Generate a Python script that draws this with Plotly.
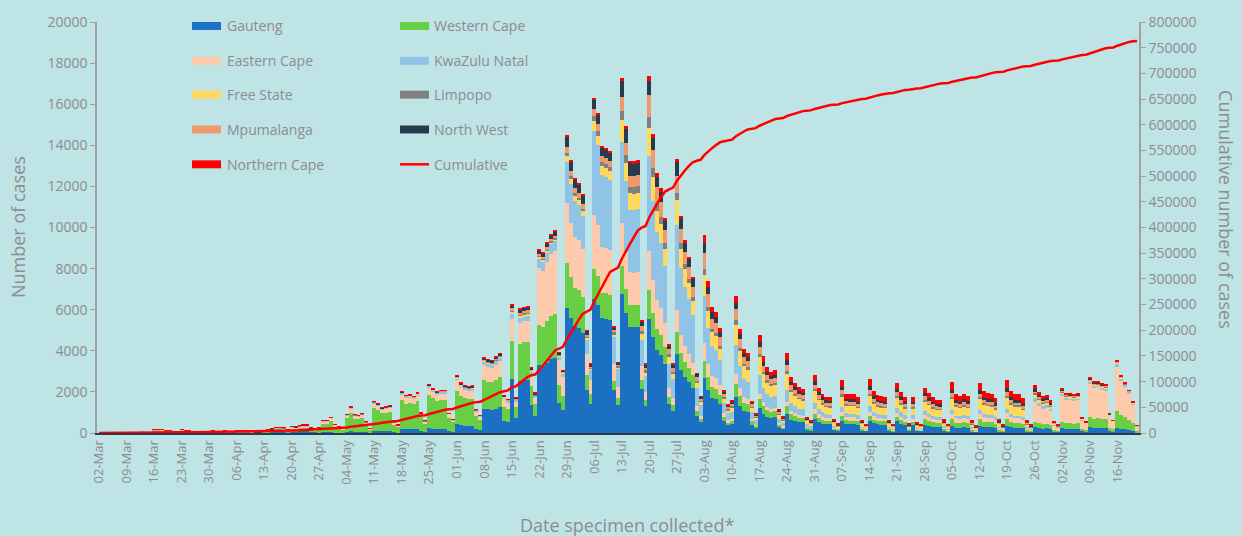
import numpy as np
import pandas as pd
import plotly.graph_objects as go

dates = list(pd.date_range("2020-03-02", "2020-11-21").strftime("%d-%b"))
tick_labels = dates[::7]

gauteng = [
0,0,1,1,2,1,1, 2,5,9,16,22,18,18, 68,77,72,59,50,27,23, 81,54,45,40,36,22,18,
18,20,18,18,20,12,10, 24,26,28,22,12,10,8, 16,36,40,58,56,52,30, 68,60,74,78,78,50,40,
14,32,32,38,22,17,13, 55,76,54,52,57,33,14, 93,86,74,76,80,33,23, 203,184,187,179,197,98,60,
236,216,202,208,208,95,66, 422,366,348,342,344,174,131, 1168,1146,1130,1184,1245,589,528,
2625,727,2537,2570,2583,1348,819, 3308,3249,3426,3578,3637,1458,1129, 6094,5586,5212,5111,4872,2096,1415,
6528,6224,5580,5544,5480,2072,1380, 6743,5831,5168,5156,5179,2145,1314, 5562,4659,4048,3808,3350,1389,1078,
3866,3062,2720,2485,2195,841,519, 2699,2075,1714,1646,1434,591,389, 416,1737,1318,1066,1011,408,247,
1195,933,803,743,763,298,205, 938,655,586,538,518,190,144, 674,530,461,422,415,166,106,
591,442,435,435,405,145,101, 600,472,423,412,405,145,97, 561,460,398,108,398,120,101,
398,351,311,293,288,119,79, 349,265,251,269,253,88,50, 343,284,273,269,239,92,59,
360,287,265,265,235,88,59, 278,240,215,221,192,70,50, 221,197,195,192,195,76,55,
270,249,252,240,237,95,63, 247,195,172,146,106,25]

western_cape = [
0,0,0,1,1,0,0, 2,3,6,10,15,12,12, 45,51,48,39,33,18,15, 54,36,30,27,24,15,12,
45,50,45,45,50,30,25, 60,65,70,55,30,25,20, 40,90,100,145,140,130,75, 170,150,185,195,195,125,100,
196,441,441,532,308,238,175, 662,914,648,626,684,396,166, 1116,1037,893,914,965,396,281, 1380,1251,1272,1217,1340,666,408,
1605,1469,1374,1414,1414,646,449, 1630,1415,1346,1322,1328,673,505, 1387,1360,1341,1406,1478,699,627,
1875,519,1812,1836,1845,963,585, 1967,1932,2037,2127,2163,867,671, 2177,1995,1862,1826,1740,749,506,
1469,1400,1256,1247,1233,466,311, 1383,1196,1060,1058,1062,440,270, 1390,1165,1012,952,838,347,270,
1066,845,750,686,606,232,143, 819,630,520,500,435,179,118, 160,668,507,410,389,157,95,
478,373,321,297,305,119,82, 352,246,220,202,194,71,54, 253,199,173,158,156,62,40,
231,173,170,170,158,57,40, 235,185,166,161,158,57,38, 220,180,156,42,156,47,40,
265,234,208,196,192,79,53, 324,246,233,250,235,82,47, 319,264,254,250,222,86,55,
334,267,246,246,218,82,55, 278,240,215,221,192,70,50, 309,276,273,269,273,106,77,
486,448,454,432,427,171,113, 847,667,588,499,365,86]

eastern_cape = [
0,0,0,0,0,0,0, 0,0,1,1,2,1,1, 5,5,5,4,3,2,2, 5,4,3,3,2,2,1,
11,12,11,11,12,7,6, 14,16,17,13,7,6,5, 10,22,24,35,34,31,18, 41,36,44,47,47,30,24,
42,95,95,114,66,51,38, 138,191,135,131,143,83,35, 233,216,186,191,201,83,59, 305,276,281,269,296,147,90,
354,324,303,312,312,143,99, 506,439,418,410,412,209,157, 730,716,706,740,778,368,330,
1063,294,1027,1040,1046,546,332, 2771,2722,2871,2998,3047,1221,946, 2902,2660,2482,2434,2320,998,674,
2611,2490,2232,2218,2192,829,552, 2075,1794,1590,1586,1594,660,404, 1912,1602,1392,1309,1152,477,371,
1066,845,750,686,606,232,143, 868,667,551,529,461,190,125, 112,468,355,287,272,110,67,
239,187,161,149,153,60,41, 235,164,146,134,130,47,36, 225,177,154,141,138,55,35,
206,154,151,151,141,50,35, 209,164,147,143,141,50,34, 195,160,138,38,138,42,35,
221,195,173,163,160,66,44, 274,208,197,211,199,69,40, 270,223,215,211,188,73,46,
283,226,208,208,185,69,46, 974,840,752,773,672,244,176, 1282,1143,1131,1114,1131,441,319,
1620,1494,1512,1440,1422,570,378, 2118,1668,1470,1248,912,216]

kwazulu_natal = [
0,0,0,0,0,0,0, 1,1,2,4,6,5,5, 18,20,19,16,13,7,6, 22,14,12,11,10,6,5,
7,8,7,7,8,5,4, 10,10,11,9,5,4,3, 6,14,16,23,22,21,12, 27,24,30,31,31,20,16,
14,32,32,38,22,17,13, 28,38,27,26,29,17,7, 47,43,37,38,40,17,12, 61,55,56,54,59,29,18,
94,86,81,83,83,38,26, 112,98,93,91,92,46,35, 183,179,177,185,195,92,83,
250,69,242,245,246,128,78, 447,439,463,484,492,197,153, 2031,1862,1737,1704,1624,699,472,
4080,3890,3488,3465,3425,1295,863, 3977,3439,3048,3041,3054,1265,775, 4606,3858,3352,3154,2775,1150,893,
4132,3274,2908,2657,2347,899,555, 2265,1741,1438,1382,1203,496,327, 336,1403,1065,861,817,330,200,
908,709,610,564,580,226,156, 547,382,342,314,302,111,84, 309,243,211,194,190,76,48,
257,192,189,189,176,63,44, 261,205,184,179,176,63,42, 244,200,173,47,173,52,44,
177,156,138,130,128,53,35, 174,132,125,134,127,44,25, 172,142,137,134,120,46,29,
180,144,132,132,118,44,29, 162,140,125,129,112,41,29, 111,99,98,96,98,38,28,
108,100,101,96,95,38,25, 177,139,123,104,76,18]

free_state = [
0,0,0,0,0,0,0, 0,1,1,2,3,2,2, 7,9,8,6,5,3,2, 9,6,5,5,4,3,2,
2,2,2,2,2,1,1, 2,3,3,2,1,1,1, 2,4,4,6,6,5,3, 7,6,7,8,8,5,4,
3,6,6,8,4,3,2, 9,13,9,9,10,6,2, 16,14,12,13,13,6,4, 20,18,19,18,20,10,6,
12,11,10,10,10,5,3, 28,24,23,23,23,12,9, 37,36,35,37,39,18,17,
94,26,91,92,92,48,29, 89,88,93,97,98,39,31, 290,266,248,243,232,100,67,
490,467,419,416,411,155,104, 1037,897,795,793,797,330,202, 1390,1165,1012,952,838,347,270,
1200,950,844,771,681,261,161, 1060,815,673,647,563,232,153, 240,1002,761,615,584,236,143,
860,671,578,535,549,214,148, 821,573,512,470,454,166,126, 590,464,403,370,363,145,92,
514,384,378,378,352,126,88, 522,410,368,358,352,126,84, 488,400,346,94,346,104,88,
486,429,381,359,352,145,97, 573,435,412,442,416,145,83, 564,467,449,442,393,152,97,
591,472,435,435,386,145,97, 186,160,143,147,128,46,34, 66,59,59,58,59,23,17,
54,50,50,48,47,19,13, 35,28,25,21,15,4]

limpopo = [
0,0,0,0,0,0,0, 0,0,0,0,1,0,0, 2,2,2,1,1,1,0, 2,1,1,1,1,0,0,
2,2,2,2,2,1,1, 2,3,3,2,1,1,1, 2,4,4,6,6,5,3, 7,6,7,8,8,5,4,
3,6,6,8,4,3,2, 5,6,5,4,5,3,1, 8,7,6,6,7,3,2, 10,9,9,9,10,5,3,
12,11,10,10,10,5,3, 14,12,12,11,11,6,4, 18,18,18,19,19,9,8,
63,17,60,61,62,32,20, 45,44,46,48,49,20,15, 145,133,124,122,116,50,34,
245,233,209,208,206,78,52, 432,374,331,331,332,138,84, 521,437,380,357,314,130,101,
333,264,235,214,189,73,45, 289,222,184,176,154,63,42, 48,200,152,123,117,47,29,
143,112,96,89,92,36,25, 117,82,73,67,65,24,18, 84,66,58,53,52,21,13,
77,58,57,57,53,19,13, 78,62,55,54,53,19,13, 73,60,52,14,52,16,13,
66,59,52,49,48,20,13, 75,57,54,58,54,19,11, 74,61,59,58,51,20,13,
77,62,57,57,50,19,13, 46,40,36,37,32,12,8, 33,30,29,29,29,11,8,
27,25,25,24,24,10,6, 18,14,12,10,8,2]

mpumalanga = [
0,0,0,0,0,0,0, 0,0,1,1,1,1,1, 3,3,3,3,2,1,1, 4,2,2,2,2,1,1,
2,2,2,2,2,1,1, 3,3,3,2,1,1,1, 2,4,4,6,6,5,3, 7,6,7,8,8,5,4,
3,6,6,8,4,3,2, 5,6,5,4,5,3,1, 8,7,6,6,7,3,2, 10,9,9,9,10,5,3,
12,11,10,10,10,5,3, 28,24,23,23,23,12,9, 37,36,35,37,39,18,17,
94,26,91,92,92,48,29, 89,88,93,97,98,39,31, 290,266,248,243,232,100,67,
326,311,279,277,274,104,69, 692,598,530,529,531,220,135, 1043,874,759,714,628,260,202,
866,686,610,557,492,189,116, 771,593,490,470,410,169,111, 128,534,406,328,311,126,76,
382,298,257,238,244,95,66, 313,218,195,179,173,63,48, 225,177,154,141,138,55,35,
206,154,151,151,141,50,35, 209,164,147,143,141,50,34, 195,160,138,38,138,42,35,
177,156,138,130,128,53,35, 174,132,125,134,127,44,25, 172,142,137,134,120,46,29,
180,144,132,132,118,44,29, 116,100,90,92,80,29,21, 55,49,49,48,49,19,14,
41,37,38,36,36,14,9, 35,28,25,21,15,4]

north_west = [
0,0,0,0,0,0,0, 0,0,0,1,0,1,0, 1,2,2,1,1,1,1, 2,2,1,1,1,1,1,
3,3,3,3,3,2,2, 4,4,4,3,2,2,1, 2,5,6,9,8,8,5, 10,9,11,12,12,8,6,
3,6,6,8,4,3,2, 5,6,5,4,5,3,1, 8,7,6,6,7,3,2, 10,9,9,9,10,5,3,
12,11,10,10,10,5,3, 42,37,35,34,34,17,13, 73,72,71,74,78,37,33,
156,43,151,153,154,80,49, 179,176,185,193,197,79,61, 508,466,434,426,406,175,118,
490,467,419,416,411,155,104, 778,673,596,595,598,248,152, 695,582,506,476,419,174,135,
667,528,469,429,379,145,90, 482,371,306,294,256,106,70, 80,334,254,205,195,79,48,
239,187,161,149,153,60,41, 235,164,146,134,130,47,36, 169,133,115,106,104,41,26,
154,115,113,113,106,38,26, 157,123,110,107,106,38,25, 146,120,104,28,104,31,26,
133,117,104,98,96,40,26, 174,132,125,134,127,44,25, 172,142,137,134,120,46,29,
180,144,132,132,118,44,29, 93,80,72,74,64,23,17, 44,39,39,38,39,15,11,
41,37,38,36,36,14,9, 18,14,12,10,8,2]

northern_cape = [
0,0,0,0,0,0,0, 0,0,0,0,0,0,1, 1,1,1,1,2,0,0, 1,1,1,0,0,0,0,
1,1,1,1,1,1,0, 1,1,1,1,1,0,0, 1,2,2,3,3,3,2, 3,3,4,4,4,3,2,
3,6,6,8,4,3,3, 14,19,14,13,14,8,3, 23,22,19,19,20,8,6, 30,28,28,27,30,15,9,
24,22,20,21,21,10,7, 28,24,23,23,23,12,9, 18,18,18,19,19,9,8,
31,9,30,31,31,16,10, 45,44,46,48,49,20,15, 73,67,62,61,58,25,17,
82,78,70,69,69,26,17, 173,150,133,132,133,55,34, 261,218,190,179,157,65,51,
133,106,94,86,76,29,18, 386,296,245,235,205,84,56, 80,334,254,205,195,79,48,
335,261,225,208,214,83,57, 352,246,220,202,194,71,54, 281,221,192,176,173,69,44,
334,250,246,246,229,82,57, 339,267,239,233,229,82,55, 317,260,225,61,225,68,57,
287,254,225,212,208,86,57, 374,284,269,288,272,95,54, 368,305,293,288,257,99,63,
386,308,284,284,252,95,63, 186,160,143,147,128,46,34, 88,79,78,77,78,30,22,
54,50,50,48,47,19,13, 35,28,25,21,15,4]

provinces = ["Gauteng", "Western Cape", "Eastern Cape", "KwaZulu Natal", "Free State",
             "Limpopo", "Mpumalanga", "North West", "Northern Cape"]
series = [gauteng, western_cape, eastern_cape, kwazulu_natal, free_state,
          limpopo, mpumalanga, north_west, northern_cape]
colors = ["#1C70C3", "#68CF45", "#FDCBAB", "#8FC4E7", "#FFD95C",
          "#808080", "#EE9A6D", "#273A4E", "#FF0000"]

n = len(dates)
series = [s[:n] + [0] * (n - len(s)) for s in series]
cumulative = np.cumsum(np.sum(np.array(series), axis=0))

BG = "#BFE4E6"
GREY = "#8C8C8C"
FONT = "Open Sans"

fig = go.Figure()
for name, vals, col in zip(provinces, series, colors):
    fig.add_trace(go.Bar(x=dates, y=vals, name=name, marker_color=col,
                         marker_line_width=0, showlegend=False))
fig.add_trace(go.Scatter(x=dates, y=cumulative, name="Cumulative", mode="lines",
                         line=dict(color="#FF0000", width=2.5), yaxis="y2",
                         showlegend=False))

W, H = 1242, 536
L, R, T, B = 97, 1139, 20, 433
def px(xp): return (xp - L) / (R - L)
def py(yp): return (B - yp) / (B - T)

# manual two-column legend
legend_cols = [(192, 221, 225), (400, 429, 432)]
legend_rows = [24, 59, 93, 128, 163]
entries = list(zip(provinces, colors)) + [("Cumulative", "line")]
shapes, annotations = [], []
for k, (name, col) in enumerate(entries):
    c = k % 2
    r = k // 2
    x0, x1, xt = legend_cols[c]
    yc = legend_rows[r]
    if col == "line":
        shapes.append(dict(type="line", xref="paper", yref="paper",
                           x0=px(x0), x1=px(x1), y0=py(yc), y1=py(yc),
                           line=dict(color="#FF0000", width=2.5)))
    else:
        shapes.append(dict(type="rect", xref="paper", yref="paper",
                           x0=px(x0), x1=px(x1), y0=py(yc - 4), y1=py(yc + 4),
                           fillcolor=col, line_width=0))
    annotations.append(dict(text=name, xref="paper", yref="paper", x=px(xt), y=py(yc),
                            xanchor="left", yanchor="middle", showarrow=False,
                            font=dict(size=14, color=GREY, family=FONT)))

annotations.append(dict(text="Number of cases", xref="paper", yref="paper",
                        x=px(18), y=py(226), textangle=-90, showarrow=False,
                        xanchor="center", yanchor="middle",
                        font=dict(size=18, color=GREY, family=FONT)))
annotations.append(dict(text="Cumulative number of cases", xref="paper", yref="paper",
                        x=px(1226), y=py(208), textangle=90, showarrow=False,
                        xanchor="center", yanchor="middle",
                        font=dict(size=18, color=GREY, family=FONT)))
annotations.append(dict(text="Date specimen collected*", xref="paper", yref="paper",
                        x=px(627), y=py(525), showarrow=False,
                        xanchor="center", yanchor="middle",
                        font=dict(size=18, color=GREY, family=FONT)))

fig.update_layout(
    width=W, height=H,
    margin=dict(l=L, r=W - R, t=T, b=H - B),
    paper_bgcolor=BG, plot_bgcolor=BG,
    barmode="stack", bargap=0,
    showlegend=False,
    shapes=shapes, annotations=annotations,
    font=dict(family=FONT, color=GREY, size=13),
    xaxis=dict(type="category", range=[-0.5, n - 0.5], tickmode="array",
               tickvals=tick_labels, ticktext=tick_labels, tickangle=-90,
               showgrid=False, zeroline=False, showline=True,
               linecolor="#2C3A4A", linewidth=2, ticks="",
               tickfont=dict(size=13, color=GREY, family=FONT)),
    yaxis=dict(range=[0, 20000], dtick=2000, tickformat="d", showgrid=False,
               zeroline=False, showline=True, linecolor="#A0A0A0", linewidth=1.5,
               ticks="outside", ticklen=5, tickcolor="#A0A0A0",
               tickfont=dict(size=14, color=GREY, family=FONT)),
    yaxis2=dict(range=[0, 800000], dtick=50000, tickformat="d", overlaying="y",
                side="right", showgrid=False, zeroline=False, showline=True,
                linecolor="#A0A0A0", linewidth=1.5, ticks="outside", ticklen=5,
                tickcolor="#A0A0A0",
                tickfont=dict(size=14, color=GREY, family=FONT)),
)

fig.write_html("out.html", config={"displayModeBar": False},
               post_script="document.body.style.margin='0px';document.body.style.overflow='hidden';")
